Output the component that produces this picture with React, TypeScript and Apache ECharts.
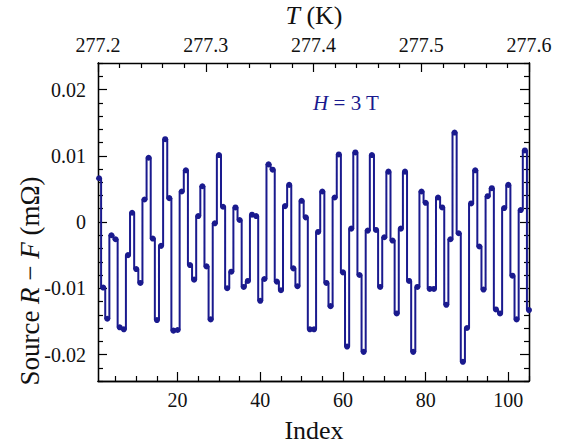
import React, { useEffect, useRef } from "react";
import * as echarts from "echarts";

// Index of each measurement
const indices: number[] = Array.from({ length: 105 }, (_, i) => i + 1);

// Source R − F (mΩ)
const values: number[] = [
  0.0066, -0.0099, -0.0146, -0.002, -0.0026, -0.0159, -0.0162, -0.005, 0.0014, -0.0071,
  -0.0092, 0.0034, 0.0097, -0.0025, -0.0148, -0.0036, 0.0125, 0.0036, -0.0164, -0.0163,
  0.0046, 0.0078, -0.0065, -0.0087, 0.0009, 0.0054, -0.0067, -0.0147, -0.0002, 0.0101,
  0.0023, -0.01, -0.0075, 0.0022, 0.0003, -0.0098, -0.0089, 0.0011, 0.0009, -0.0119,
  -0.0086, 0.0087, 0.0079, -0.009, -0.0103, 0.0024, 0.0056, -0.007, -0.0097, 0.0032,
  0.0007, -0.0162, -0.0162, -0.0015, 0.0046, -0.0092, -0.0127, 0.0037, 0.0102, -0.0076,
  -0.0188, -0.001, 0.0105, -0.008, -0.0196, -0.0013, 0.0101, -0.0012, -0.0098, -0.0023,
  0.0076, -0.0028, -0.0138, -0.001, 0.0076, -0.0089, -0.0196, -0.0098, 0.0046, 0.0029,
  -0.0101, -0.0101, 0.0037, 0.0022, -0.0125, -0.0026, 0.0135, -0.0017, -0.0211, -0.016,
  0.0028, 0.0078, -0.0037, -0.0102, 0.0039, 0.0051, -0.0132, -0.0138, 0.0021, 0.0056,
  -0.0081, -0.0147, 0.0018, 0.0108, -0.0133,
];

// Tick values
const indexMajorTicks: number[] = [20, 40, 60, 80, 100];
const indexMinorTicks: number[] = [5, 10, 15, 25, 30, 35, 45, 50, 55, 65, 70, 75, 85, 90, 95, 105];
const yMajorTicks: number[] = [-0.02, -0.01, 0, 0.01, 0.02];
const yMinorTicks: number[] = [
  -0.024, -0.022, -0.018, -0.016, -0.014, -0.012, -0.008, -0.006, -0.004, -0.002,
  0.002, 0.004, 0.006, 0.008, 0.012, 0.014, 0.016, 0.018, 0.022, 0.024,
];

const FONT = "Liberation Serif";
const LINE_COLOR = "#1a1a8e";
const TEXT_COLOR = "#111";

export default function App() {
  const ref = useRef<HTMLDivElement>(null);

  useEffect(() => {
    if (!ref.current) return;
    const chart = echarts.init(ref.current, null, { renderer: "svg" });
    const axisLine = { show: true, onZero: false, lineStyle: { color: "#000", width: 1.3 } };
    const hidden = { show: false };
    const tickStyle = { color: "#000", width: 1.2 };
    const labelStyle = {
      color: TEXT_COLOR,
      fontFamily: FONT,
      fontSize: 20,
      rich: { t: { fontFamily: FONT, fontSize: 20, color: TEXT_COLOR } },
    };
    const data = indices.map((x, i) => [x, values[i]]);

    chart.setOption({
      animation: false,
      backgroundColor: "#fff",
      textStyle: { fontFamily: FONT, color: TEXT_COLOR },
      grid: { left: 98, right: 42, top: 63, bottom: 66, containLabel: false },
      xAxis: [
        {
          type: "value",
          position: "bottom",
          min: 0.75,
          max: 105,
          axisLine,
          splitLine: hidden,
          axisTick: { show: true, inside: true, length: 9, customValues: indexMajorTicks, lineStyle: tickStyle },
          axisLabel: {
            show: true,
            customValues: indexMajorTicks,
            margin: 9,
            ...labelStyle,
            formatter: (v: number) => `{t|${v}}`,
          },
        },
        {
          type: "value",
          position: "bottom",
          min: 0.75,
          max: 105,
          axisLine,
          splitLine: hidden,
          axisTick: { show: true, inside: true, length: 5, customValues: indexMinorTicks, lineStyle: tickStyle },
          axisLabel: hidden,
        },
        {
          type: "value",
          position: "top",
          min: 277.2,
          max: 277.6,
          interval: 0.1,
          axisLine,
          splitLine: hidden,
          axisTick: { show: true, inside: true, length: 9, lineStyle: tickStyle },
          minorTick: { show: true, splitNumber: 5, length: 5, lineStyle: tickStyle },
          minorSplitLine: hidden,
          axisLabel: {
            show: true,
            margin: 8,
            ...labelStyle,
            formatter: (v: number) => `{t|${v.toFixed(1)}}`,
          },
        },
      ],
      yAxis: [
        {
          type: "value",
          position: "left",
          min: -0.024,
          max: 0.024,
          axisLine,
          splitLine: hidden,
          axisTick: { show: true, inside: true, length: 9, customValues: yMajorTicks, lineStyle: tickStyle },
          axisLabel: {
            show: true,
            customValues: yMajorTicks,
            margin: 12,
            ...labelStyle,
            formatter: (v: number) => `{t|${Math.abs(v) < 1e-9 ? "0" : v.toFixed(2)}}`,
          },
        },
        {
          type: "value",
          position: "left",
          min: -0.024,
          max: 0.024,
          axisLine,
          splitLine: hidden,
          axisTick: { show: true, inside: true, length: 5, customValues: yMinorTicks, lineStyle: tickStyle },
          axisLabel: hidden,
        },
        {
          type: "value",
          position: "right",
          min: -0.024,
          max: 0.024,
          axisLine,
          splitLine: hidden,
          axisTick: { show: true, inside: true, length: 9, customValues: yMajorTicks, lineStyle: tickStyle },
          axisLabel: hidden,
        },
        {
          type: "value",
          position: "right",
          min: -0.024,
          max: 0.024,
          axisLine,
          splitLine: hidden,
          axisTick: { show: true, inside: true, length: 5, customValues: yMinorTicks, lineStyle: tickStyle },
          axisLabel: hidden,
        },
      ],
      series: [
        {
          type: "line",
          xAxisIndex: 0,
          yAxisIndex: 0,
          data,
          step: "middle",
          showSymbol: true,
          symbol: "circle",
          symbolSize: 6,
          lineStyle: { color: LINE_COLOR, width: 2 },
          itemStyle: { color: LINE_COLOR },
          clip: false,
        },
      ],
      graphic: [
        {
          type: "text",
          x: 314,
          y: 15,
          style: {
            text: "{i|T}{n| (K)}",
            fontFamily: FONT,
            fontSize: 26,
            fill: TEXT_COLOR,
            textAlign: "center",
            textVerticalAlign: "middle",
            rich: {
              n: { fontFamily: FONT, fontSize: 26, fill: TEXT_COLOR },
              i: { fontFamily: FONT, fontSize: 26, fontStyle: "italic", fill: TEXT_COLOR },
            },
          },
        },
        {
          type: "text",
          x: 314,
          y: 430,
          style: {
            text: "Index",
            fontFamily: FONT,
            fontSize: 26,
            fill: TEXT_COLOR,
            textAlign: "center",
            textVerticalAlign: "middle",
          },
        },
        {
          type: "text",
          x: 30,
          y: 281,
          rotation: Math.PI / 2,
          style: {
            text: "{n|Source }{i|R}{n| − }{i|F}{n| (mΩ)}",
            fontFamily: FONT,
            fontSize: 27,
            fill: TEXT_COLOR,
            textAlign: "center",
            textVerticalAlign: "middle",
            rich: {
              n: { fontFamily: FONT, fontSize: 27, fill: TEXT_COLOR },
              i: { fontFamily: FONT, fontSize: 27, fontStyle: "italic", fill: TEXT_COLOR },
            },
          },
        },
        {
          type: "text",
          x: 346,
          y: 103,
          style: {
            text: "{i|H}{n| = 3 T}",
            fontFamily: FONT,
            fontSize: 21,
            fill: LINE_COLOR,
            textAlign: "center",
            textVerticalAlign: "middle",
            rich: {
              n: { fontFamily: FONT, fontSize: 21, fill: LINE_COLOR },
              i: { fontFamily: FONT, fontSize: 21, fontStyle: "italic", fill: LINE_COLOR },
            },
          },
        },
      ],
    });

    return () => chart.dispose();
  }, []);

  return <div ref={ref} style={{ width: 571, height: 447, position: "absolute", left: 0, top: 0 }} />;
}
